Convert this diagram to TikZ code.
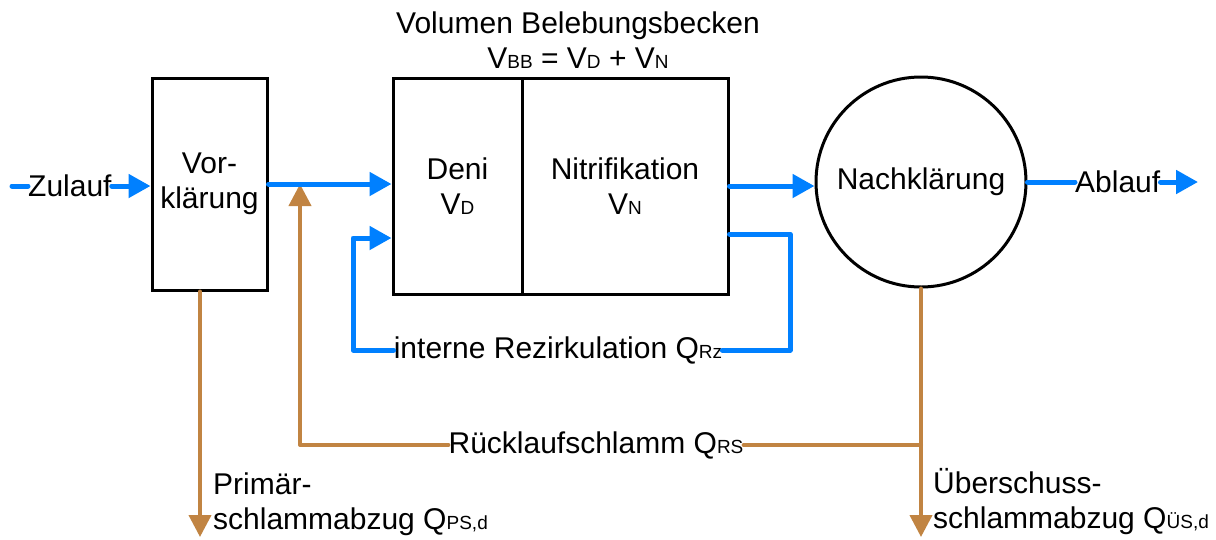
\documentclass[tikz,border=0pt]{standalone}
\usepackage{fontspec}
\setmainfont{Liberation Sans}
\usetikzlibrary{arrows.meta,calc}
\definecolor{flowblue}{RGB}{0,128,255}
\definecolor{sludge}{RGB}{193,132,66}
% small index letters set on the baseline
\newcommand{\lo}[1]{{\fontsize{19}{19}\selectfont #1}}

\begin{document}
\begin{tikzpicture}[x=1pt,y=-1pt,
  every node/.style={font=\fontsize{30}{35}\selectfont},
  unit/.style={draw, line width=3pt, inner sep=0pt, align=center},
  txt/.style={inner sep=0pt},
  water/.style={draw=flowblue, line width=5pt, line cap=round, line join=round},
  sludgeflow/.style={draw=sludge, line width=4pt, line cap=round, line join=round},
  wtip/.style={-{Triangle[length=22pt,width=23pt]}},
  stip/.style={-{Triangle[length=22pt,width=22pt]}},
]
\useasboundingbox (0,0) rectangle (1216,539);

% treatment units
\node[unit, minimum width=115pt, minimum height=212pt] (vk) at (209.5,184) {Vor-\\klärung};
\node[unit, minimum width=129pt, minimum height=216pt] (deni) at (457.5,186) {Deni\\V\lo{D}};
\node[unit, minimum width=206pt, minimum height=216pt] (nitri) at (625,186) {Nitrifikation\\V\lo{N}};
\node[unit, circle, minimum size=210pt] (nk) at (921,182) {Nachklärung};

% labels
\node[txt, align=center] (title) at (578,40) {Volumen Belebungsbecken\\V\lo{BB} = V\lo{D} + V\lo{N}};
\node[txt, anchor=west] (zul) at (28,186) {Zulauf};
\node[txt, anchor=west] (abl) at (1075,182) {Ablauf};
\node[txt] (rz) at (558,350) {interne Rezirkulation Q\lo{Rz}};
\node[txt] (rs) at (596,445) {Rücklaufschlamm Q\lo{RS}};
\node[txt, anchor=north west, align=left] (ps) at (213,473) {Primär-\\schlammabzug Q\lo{PS,d}};
\node[txt, anchor=north west, align=left] (us) at (933,468) {Überschuss-\\schlammabzug Q\lo{ÜS,d}};

% free ends and bends
\coordinate (zin) at (12,186);
\coordinate (aout) at (1198,182);
\coordinate (psend) at (200,537);
\coordinate (usend) at (921,537);
\coordinate (rsjoin) at (921,445);
\coordinate (rsturn) at (300,445);
\coordinate (rstip) at (300,184);
\coordinate (rzr) at (790,350);
\coordinate (rzl) at (353,350);

% sludge lines
\draw[sludgeflow, stip] (vk.south -| psend) -- (psend);
\draw[sludgeflow, stip] (nk.south) -- (usend);
\draw[sludgeflow] (rsjoin) -- (rs.east);
\draw[sludgeflow, stip] (rs.west) -- (rsturn) -- (rstip);

% water lines
\draw[water] (zin) -- (zul.west);
\draw[water, wtip] (zul.east) -- (zul.east -| vk.west);
\draw[water, wtip] (vk.east) -- (vk.east -| deni.west);
\draw[water, wtip] (nitri.east) -- (nitri.east -| nk.west);
\draw[water] (nk.east) -- (abl.west);
\draw[water, wtip] (abl.east) -- (aout);

% internal recirculation
\draw[water] ($(nitri.east)+(0,48)$) -| (rzr) -- (rz.east);
\draw[water, wtip] (rz.west) -- (rzl) |- ($(deni.west)+(0,52)$);
\end{tikzpicture}
\end{document}
